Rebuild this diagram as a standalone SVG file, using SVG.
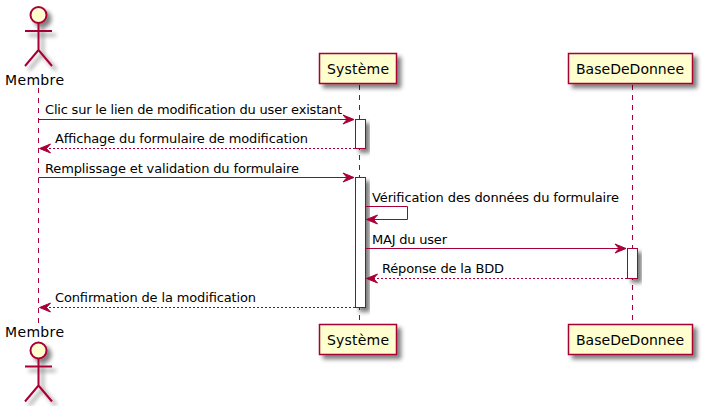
<svg xmlns="http://www.w3.org/2000/svg" width="705" height="406" viewBox="0 0 705 406">
<style>
text{font-family:"DejaVu Sans",sans-serif;fill:#000}
.m{font-size:13px}
.p{font-size:14px}
.l{stroke:#A80036;stroke-width:1;fill:none}
.d{stroke-dasharray:2,2}
.life{stroke:#A80036;stroke-width:1;stroke-dasharray:5,5;fill:none}
.box{fill:#FEFECE;stroke:#A80036;stroke-width:1.5}
.act{fill:#FFFFFF;stroke:#A80036;stroke-width:1}
.actor{fill:none;stroke:#A80036;stroke-width:2}
.head{fill:#FEFECE;stroke:#A80036;stroke-width:2}
</style>
<defs>
<filter id="sh" x="-30%" y="-30%" width="170%" height="170%">
<feGaussianBlur in="SourceAlpha" stdDeviation="2"/>
<feColorMatrix values="0 0 0 0 0 0 0 0 0 0 0 0 0 0 0 0 0 0 0.5 0"/>
<feOffset dx="4" dy="4" result="b"/>
<feMerge><feMergeNode in="b"/><feMergeNode in="SourceGraphic"/></feMerge>
</filter>
<marker id="ar" markerUnits="userSpaceOnUse" markerWidth="14" markerHeight="14" refX="12" refY="7" orient="auto">
<path d="M1,2.5 L12,7 L1,11.5 L5,7 Z" fill="#A80036" stroke="#A80036"/>
</marker>
</defs>
<g id="lifelines">
<line class="life" x1="38.5" y1="88" x2="38.5" y2="325"/>
<line class="life" x1="359.5" y1="85" x2="359.5" y2="325"/>
<line class="life" x1="632.5" y1="85" x2="632.5" y2="325"/>
</g>
<g id="node-membre-top">
<g filter="url(#sh)">
<circle class="head" cx="38.5" cy="15" r="8"/>
<path class="actor" d="M38.5,23V50M25,31H52M38.5,50L25,66M38.5,50L52,66"/>
</g>
<text class="p" x="5" y="85" textLength="59">Membre</text>
</g>
<g id="node-systeme-top">
<rect class="box" x="319.5" y="53.5" width="77" height="30" filter="url(#sh)"/>
<text class="p" x="327" y="73.5" textLength="62">Système</text>
</g>
<g id="node-bdd-top">
<rect class="box" x="568.5" y="53.5" width="124" height="30" filter="url(#sh)"/>
<text class="p" x="576" y="73.5" textLength="108">BaseDeDonnee</text>
</g>
<g id="activations">
<rect class="act" x="355.5" y="119.5" width="10" height="29" filter="url(#sh)"/>
<rect class="act" x="355.5" y="177.5" width="10" height="130" filter="url(#sh)"/>
<rect class="act" x="627.5" y="248.5" width="10" height="30" filter="url(#sh)"/>
</g>
<g id="connectors">
<line class="l" x1="38.5" y1="119.5" x2="354" y2="119.5" marker-end="url(#ar)"/>
<line class="l d" x1="355" y1="148.5" x2="39.5" y2="148.5" marker-end="url(#ar)"/>
<line class="l" x1="38.5" y1="177.5" x2="354" y2="177.5" marker-end="url(#ar)"/>
<path class="l" d="M365.5,206.5H407.5V219.5H366.5" marker-end="url(#ar)"/>
<line class="l" x1="365.5" y1="248.5" x2="626" y2="248.5" marker-end="url(#ar)"/>
<line class="l d" x1="627" y1="278.5" x2="366.5" y2="278.5" marker-end="url(#ar)"/>
<line class="l d" x1="355" y1="307.5" x2="39.5" y2="307.5" marker-end="url(#ar)"/>
</g>
<g id="labels">
<text class="m" x="45" y="114" textLength="297">Clic sur le lien de modification du user existant</text>
<text class="m" x="55" y="143" textLength="253">Affichage du formulaire de modification</text>
<text class="m" x="45" y="173" textLength="254">Remplissage et validation du formulaire</text>
<text class="m" x="372" y="202" textLength="247">Vérification des données du formulaire</text>
<text class="m" x="372" y="244" textLength="75">MAJ du user</text>
<text class="m" x="382" y="273" textLength="122">Réponse de la BDD</text>
<text class="m" x="55" y="302" textLength="201">Confirmation de la modification</text>
</g>
<g id="node-membre-bottom">
<text class="p" x="5" y="337" textLength="59">Membre</text>
<g filter="url(#sh)">
<circle class="head" cx="38.5" cy="350.5" r="8"/>
<path class="actor" d="M38.5,358.5V385.5M25,366.5H52M38.5,385.5L25,401.5M38.5,385.5L52,401.5"/>
</g>
</g>
<g id="node-systeme-bottom">
<rect class="box" x="319.5" y="324.5" width="77" height="30" filter="url(#sh)"/>
<text class="p" x="327" y="344.5" textLength="62">Système</text>
</g>
<g id="node-bdd-bottom">
<rect class="box" x="568.5" y="324.5" width="124" height="30" filter="url(#sh)"/>
<text class="p" x="576" y="344.5" textLength="108">BaseDeDonnee</text>
</g>
</svg>
